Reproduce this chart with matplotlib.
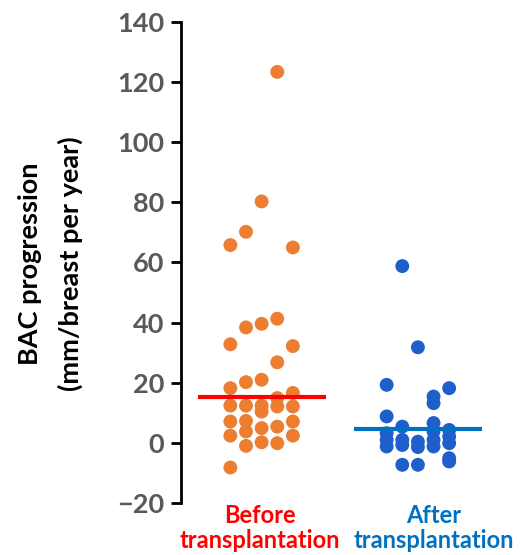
import matplotlib
matplotlib.use("Agg")
import matplotlib.pyplot as plt

# BAC progression values (mm/breast per year), grouped by the five
# jitter columns each group is drawn in
before_cols = [
    [65.8, 32.8, 18.2, 12.4, 7.1, 2.4, -8.2],
    [70.2, 38.4, 20.2, 12.4, 7.3, 3.8, -1.0],
    [80.3, 39.6, 21.0, 12.4, 10.4, 4.9, 0.2],
    [123.4, 41.3, 26.8, 14.9, 12.1, 5.4, -0.1],
    [65.0, 32.2, 16.6, 12.1, 7.1, 2.4],
]
after_cols = [
    [19.3, 8.8, 3.2, 1.0, -1.2],
    [58.8, 5.4, 1.0, -0.7, -7.3],
    [31.8, 0.4, -1.4, -7.3],
    [15.4, 13.2, 6.6, 3.8, 1.0, -1.2],
    [18.2, 4.3, 2.1, -0.1, -5.1, -6.2],
]
before_mean = 15.2
after_mean = 4.5

groups = ["Before\ntransplantation", "After\ntransplantation"]
colors = ["#ED7D31", "#1F5FCC"]
line_colors = ["#FF0000", "#0070C0"]
label_colors = ["#FF0000", "#0070C0"]

plt.rcParams["font.family"] = ["Lato", "DejaVu Sans"]

fig = plt.figure(figsize=(5.22, 5.55), dpi=100)
ax = fig.add_axes([0.3467, 0.0937, 0.6533, 0.8667])

col_step = 0.1
for gi, cols in enumerate([before_cols, after_cols]):
    center = gi + 1
    for ci, vals in enumerate(cols):
        x = center + (ci - 2) * col_step
        ax.scatter([x] * len(vals), vals, s=100, color=colors[gi],
                   edgecolors="none", zorder=2)

for gi, m in enumerate([before_mean, after_mean]):
    center = gi + 1
    ax.plot([center - 0.41, center + 0.41], [m, m], color=line_colors[gi],
            lw=3, solid_capstyle="butt", zorder=3)

ax.set_xlim(0.484, 2.666)
ax.set_ylim(-20, 140)
ax.set_yticks(range(-20, 141, 20))
ax.set_yticklabels(["\u221220"] + [str(v) for v in range(0, 141, 20)])

for s in ["top", "right", "bottom"]:
    ax.spines[s].set_visible(False)
ax.spines["left"].set_linewidth(2)
ax.tick_params(axis="y", length=7, width=2, pad=5, labelsize=19.5,
               labelcolor="#595959")
for lab in ax.get_yticklabels():
    lab.set_fontweight("bold")
ax.set_xticks([])

label_x = [0.99, 2.1]
for gi, g in enumerate(groups):
    ax.text(label_x[gi], -0.002, g, transform=ax.get_xaxis_transform(),
            ha="center", va="top", fontsize=17, fontweight="bold",
            color=label_colors[gi], linespacing=1.12)

fig.text(0.057, 0.525, "BAC progression", rotation=90, ha="center",
         va="center", fontsize=19.5, fontweight="bold")
fig.text(0.134, 0.525, "(mm/breast per year)", rotation=90, ha="center",
         va="center", fontsize=19.5, fontweight="bold")

fig.savefig("out.png", dpi=100)
